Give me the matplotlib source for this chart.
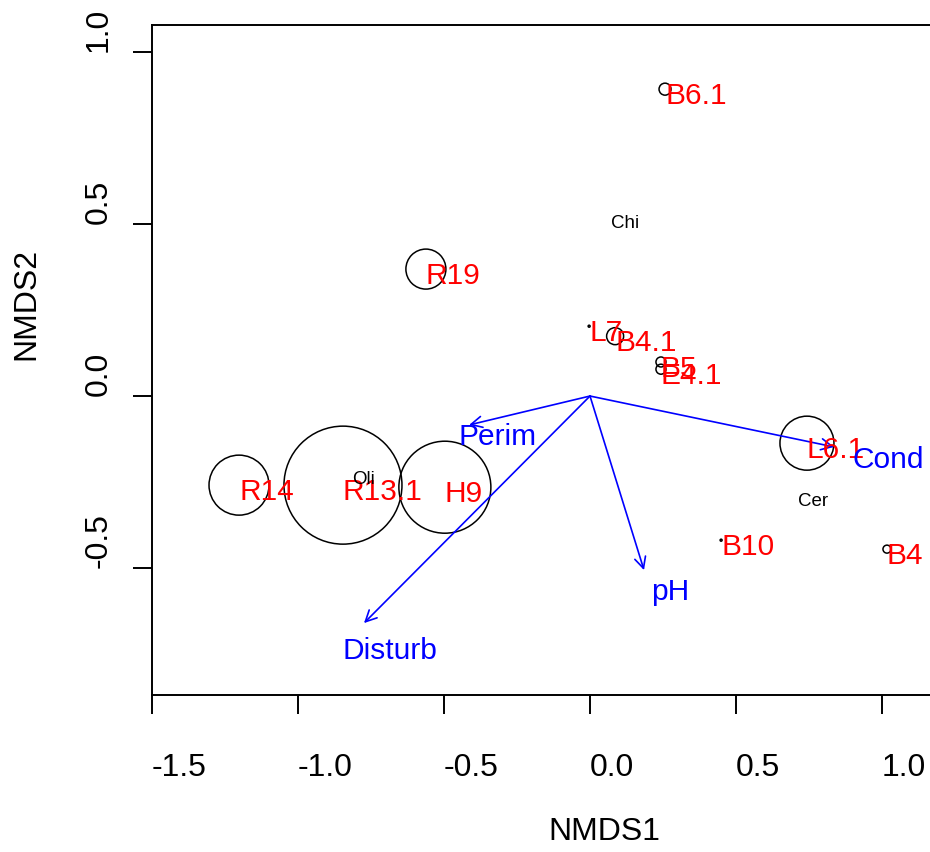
import numpy as np
import matplotlib
matplotlib.use("Agg")
import matplotlib.pyplot as plt

plt.rcParams['font.family'] = ['Liberation Sans', 'DejaVu Sans']

# site scores (NMDS1, NMDS2) and bubble radius in pixels
sites = ["B6.1", "R19", "L7", "B4.1", "B5", "E4.1", "L6.1", "R14", "R13.1", "H9", "B10", "B4"]
site_x = [0.257, -0.562, -0.003, 0.086, 0.243, 0.243, 0.743, -1.202, -0.846, -0.497, 0.449, 1.017]
site_y = [0.892, 0.369, 0.203, 0.174, 0.099, 0.078, -0.137, -0.259, -0.259, -0.265, -0.419, -0.445]
site_r = [6, 20, 1, 8.5, 5, 5, 27, 30, 59, 46, 1, 4]

# species scores
species = ["Chi", "Oli", "Cer"]
spec_x = [0.072, -0.815, 0.712]
spec_y = [0.506, -0.238, -0.300]

# envfit vectors: arrow tips and label positions
env = ["Perim", "Disturb", "pH", "Cond"]
env_x = [-0.414, -0.774, 0.185, 0.836]
env_y = [-0.084, -0.660, -0.506, -0.148]
env_lab_x = [-0.452, -0.846, 0.209, 0.900]
env_lab_y = [-0.110, -0.733, -0.561, -0.178]

xticks = [-1.5, -1.0, -0.5, 0.0, 0.5, 1.0]
yticks = [-0.5, 0.0, 0.5, 1.0]

W, H = 930, 852
fig = plt.figure(figsize=(W / 100, H / 100), dpi=100)
ax = fig.add_axes([152 / W, (H - 695) / H, 792 / W, 670 / H])
ax.set_xlim(-1.5, -1.5 + 792 / 292)
ax.set_ylim(-0.869, 1.0785)

for s in ax.spines.values():
    s.set_linewidth(1.4)

# bubbles
sizes = [(2 * r * 0.72) ** 2 for r in site_r]
ax.scatter(site_x, site_y, s=sizes, facecolors='none', edgecolors='black', linewidths=1.1, zorder=2)

for name, x, y in zip(sites, site_x, site_y):
    ax.annotate(name, (x, y), xytext=(0, -7), textcoords='offset pixels',
                ha='left', va='center', color='#FF0000', fontsize=21.5, zorder=4)

for name, x, y in zip(species, spec_x, spec_y):
    ax.annotate(name, (x, y), xytext=(0, -2), textcoords='offset pixels',
                ha='left', va='center', color='black', fontsize=13.5, zorder=4)

for name, x, y, lx, ly in zip(env, env_x, env_y, env_lab_x, env_lab_y):
    ax.annotate('', xy=(x, y), xytext=(0, 0),
                arrowprops=dict(arrowstyle='->,head_length=0.8,head_width=0.4',
                                color='#0000FF', lw=1.2, shrinkA=0, shrinkB=0), zorder=3)
    ax.annotate(name, (lx, ly), xytext=(0, -3), textcoords='offset pixels',
                ha='left', va='center', color='#0000FF', fontsize=21.5, zorder=4)

ax.set_xticks(xticks)
ax.set_xticklabels(["%.1f" % v for v in xticks], ha='left')
ax.set_yticks(yticks)
ax.set_yticklabels(["%.1f" % v for v in yticks], rotation=90, va='bottom')
ax.tick_params(axis='both', labelsize=23, width=1.4, length=13.7)
ax.tick_params(axis='x', pad=28)
ax.tick_params(axis='y', pad=14)

fig.text(548 / W, 1 - 832 / H, "NMDS1", ha='left', va='center', fontsize=23)
fig.text(26 / W, 1 - 360 / H, "NMDS2", ha='center', va='bottom', rotation=90, fontsize=23)

fig.savefig("out.png", dpi=100)
